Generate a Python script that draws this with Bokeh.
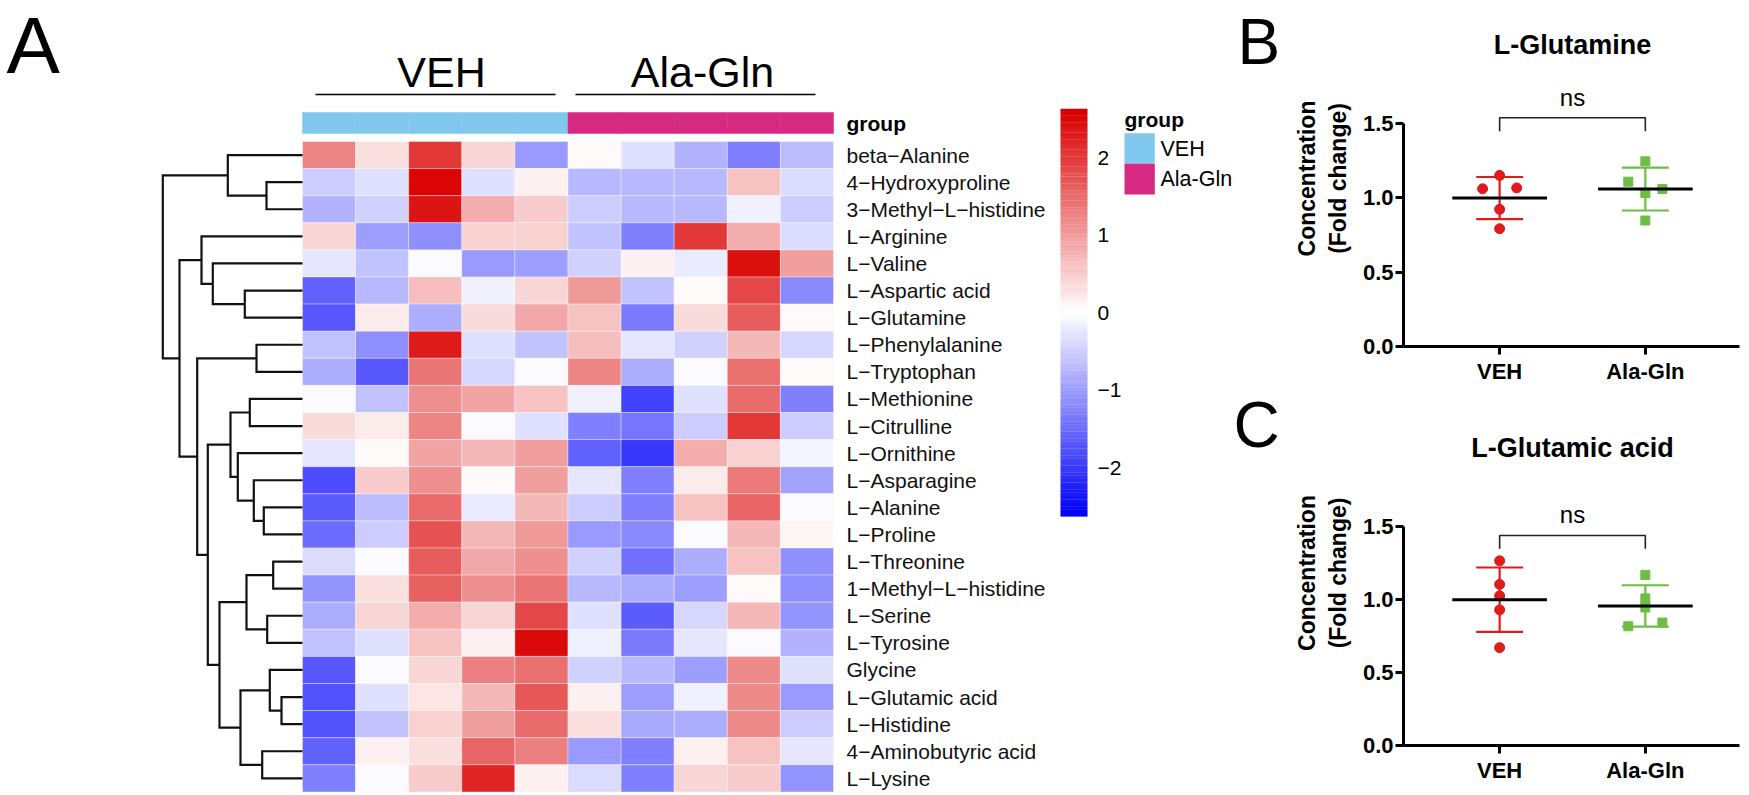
import numpy as np
from bokeh.plotting import figure
from bokeh.models import Range1d, ColumnDataSource, LinearColorMapper, FixedTicker, NumeralTickFormatter
from bokeh.layouts import row, column
from bokeh.embed import file_html
from bokeh.resources import INLINE
from bokeh.core.properties import value

FONT = "Liberation Sans"
MINUS = "\u2212"

# ---------------- data ----------------
metabolites = ["beta-Alanine", "4-Hydroxyproline", "3-Methyl-L-histidine", "L-Arginine", "L-Valine",
               "L-Aspartic acid", "L-Glutamine", "L-Phenylalanine", "L-Tryptophan", "L-Methionine",
               "L-Citrulline", "L-Ornithine", "L-Asparagine", "L-Alanine", "L-Proline", "L-Threonine",
               "1-Methyl-L-histidine", "L-Serine", "L-Tyrosine", "Glycine", "L-Glutamic acid",
               "L-Histidine", "4-Aminobutyric acid", "L-Lysine"]
sample_groups = ["VEH"] * 5 + ["Ala-Gln"] * 5
group_names = ["VEH", "Ala-Gln"]
group_colors = ["#80C8EE", "#D62A82"]

z_rows = [
    [1.24, 0.30, 2.00, 0.40, -1.02, 0.05, -0.30, -0.80, -1.27, -0.65],
    [-0.50, -0.30, 2.55, -0.30, 0.15, -0.71, -0.71, -0.71, 0.60, -0.35],
    [-0.76, -0.48, 2.40, 0.82, 0.50, -0.50, -0.71, -0.71, -0.15, -0.50],
    [0.40, -0.97, -1.14, 0.48, 0.44, -0.61, -1.27, 2.00, 0.85, -0.35],
    [-0.28, -0.61, -0.07, -1.02, -0.97, -0.48, 0.15, -0.20, 2.45, 1.00],
    [-1.58, -0.71, 0.66, -0.15, 0.40, 1.02, -0.61, 0.05, 1.84, -1.17],
    [-1.73, 0.20, -0.82, 0.34, 0.89, 0.61, -1.33, 0.34, 1.63, 0.05],
    [-0.61, -1.14, 2.31, -0.30, -0.61, 0.66, -0.28, -0.48, 0.71, -0.40],
    [-0.82, -1.73, 1.38, -0.41, -0.07, 1.24, -0.82, -0.07, 1.43, 0.05],
    [-0.07, -0.61, 1.12, 0.92, 0.61, -0.17, -1.89, -0.30, 1.48, -1.27],
    [0.38, 0.20, 1.24, -0.07, -0.30, -1.27, -1.38, -0.50, 1.99, -0.50],
    [-0.28, 0.05, 0.92, 0.71, 0.97, -1.58, -1.99, 0.85, 0.46, -0.10],
    [-1.80, 0.51, 1.12, 0.05, 0.97, -0.28, -1.27, 0.23, 1.33, -0.92],
    [-1.63, -0.66, 1.48, -0.20, 0.74, -0.50, -1.27, 0.61, 1.53, -0.03],
    [-1.48, -0.50, 1.78, 0.71, 1.02, -1.02, -1.17, -0.07, 0.74, 0.10],
    [-0.38, -0.07, 1.63, 0.89, 1.12, -0.48, -1.43, -0.82, 0.61, -1.12],
    [-1.07, 0.30, 1.58, 1.12, 1.38, -0.71, -0.82, -0.97, 0.07, -1.12],
    [-0.82, 0.41, 0.82, 0.41, 1.87, -0.30, -1.63, -0.41, 0.71, -1.07],
    [-0.61, -0.30, 0.61, 0.17, 2.50, -0.15, -1.33, -0.28, -0.07, -0.76],
    [-1.68, -0.07, 0.41, 1.27, 1.43, -0.46, -0.71, -0.97, 1.17, -0.30],
    [-1.78, -0.30, 0.25, 0.71, 1.68, 0.17, -0.97, -0.17, 1.17, -1.02],
    [-1.78, -0.61, 0.48, 0.97, 1.48, 0.30, -0.87, -0.82, 1.17, -0.50],
    [-1.58, 0.17, 0.30, 1.53, 1.27, -1.02, -1.27, 0.17, 0.61, -0.28],
    [-1.27, -0.07, 0.51, 2.20, 0.17, -0.38, -1.27, 0.41, 0.51, -1.07],
]

# row dendrogram: (child_a, child_b, height); leaves 0..23, new nodes numbered from 24
row_linkage = [
    (1, 2, 3.6), (0, 24, 7.47), (5, 6, 5.77), (4, 26, 8.97), (3, 27, 10.1),
    (7, 8, 4.6), (9, 10, 5.27), (13, 14, 3.87), (12, 31, 4.87), (11, 32, 6.47),
    (30, 33, 7.2), (15, 16, 2.93), (17, 18, 3.53), (35, 36, 5.6), (20, 21, 2.1),
    (19, 38, 3.27), (22, 23, 4.03), (39, 40, 6.2), (37, 41, 8.3), (34, 42, 9.47),
    (29, 43, 10.53), (28, 44, 12.3), (25, 45, 13.97),
]

colorbar_ticks = [-2, -1, 0, 1, 2]
z_limit = 2.61

# panel B / C  (fold change)
gln_veh = [1.149, 1.059, 1.065, 0.921, 0.791]
gln_ala = [1.244, 1.107, 1.031, 1.058, 0.846]
glu_veh = [1.262, 1.101, 1.023, 0.927, 0.669]
glu_ala = [1.166, 1.005, 0.943, 0.815, 0.840]
gln_veh_jit = [0, -0.117, 0.117, 0, 0]
gln_ala_jit = [0, -0.117, 0, 0.117, 0]
glu_veh_jit = [0, 0, 0, 0, 0]
glu_ala_jit = [0, 0, 0, -0.117, 0.117]
y_ticks = [0, 0.5, 1.0, 1.5]

# ---------------- heatmap panel ----------------
TOTAL_W, TOTAL_H = 1749, 795
WL = 1290
X0, CW, Y0, RH = 302.0, 53.1, 141.0, 27.1
def dx(xr):
    return (xr - X0) / CW
def dy(yr):
    return (yr - Y0) / RH

pA = figure(width=WL, height=TOTAL_H, x_range=Range1d(dx(0), dx(WL)), y_range=Range1d(dy(TOTAL_H), dy(0)),
            x_axis_type=None, y_axis_type=None, output_backend="svg", toolbar_location=None,
            min_border=0)
pA.outline_line_color = None
pA.grid.visible = False

def hexc(c):
    return "#%02X%02X%02X" % tuple(int(round(v)) for v in c)
blue, white, red = (0, 0, 252), (255, 255, 255), (218, 0, 0)
palette = []
N = 101
for k in range(N):
    t = k / (N - 1) * 2 - 1
    if t < 0:
        c = [white[i] + (blue[i] - white[i]) * (-t) for i in range(3)]
    else:
        c = [white[i] + (red[i] - white[i]) * t for i in range(3)]
    palette.append(hexc(c))
mapper = LinearColorMapper(palette=palette, low=-z_limit, high=z_limit)

nr, nc = len(metabolites), len(sample_groups)
cx, cy, cv = [], [], []
for i in range(nr):
    for j in range(nc):
        cx.append(j + 0.5); cy.append(i + 0.5); cv.append(z_rows[i][j])
pA.rect(x="x", y="y", width=1, height=1, source=ColumnDataSource(dict(x=cx, y=cy, v=cv)),
        fill_color={"field": "v", "transform": mapper}, line_color="white", line_alpha=0.35, line_width=1)

# annotation bar
bar_top, bar_bot = 112, 133
gcol = [group_colors[group_names.index(g)] for g in sample_groups]
pA.rect(x=[j + 0.5 for j in range(nc)], y=[dy((bar_top + bar_bot) / 2)] * nc, width=1.0,
        height=(bar_bot - bar_top) / RH, fill_color=gcol, line_color=gcol, line_width=0.5)
pA.text(x=[dx(846)], y=[dy((bar_top + bar_bot) / 2)], text=["group"],
        text_font=value(FONT), text_font_size="21px", text_font_style="bold", text_baseline="middle")

# row labels
pA.text(x=[dx(846)] * nr, y=[i + 0.5 for i in range(nr)],
        text=[m.replace("-", MINUS) for m in metabolites], text_font=value(FONT),
        text_font_size="21px", text_baseline="middle", text_color="#111111")

# top group labels and brackets
bracket_px = [(315, 555), (575, 815)]
label_cx = [441, 702]
for gi, g in enumerate(group_names):
    pA.line(x=[dx(bracket_px[gi][0]), dx(bracket_px[gi][1])], y=[dy(94), dy(94)], line_color="black", line_width=1.6)
    pA.text(x=[dx(label_cx[gi])], y=[dy(71)], text=[g], text_font=value(FONT), text_font_size="43px",
            text_align="center", text_baseline="middle")

# dendrogram
DEND_SPAN = (X0 - 162.3) / CW
hmax = max(h for _, _, h in row_linkage)
def hx(h):
    return -h / hmax * DEND_SPAN
node_y = {i: i + 0.5 for i in range(nr)}
node_h = {i: 0.0 for i in range(nr)}
dxs, dys = [], []
for k, (a, b, h) in enumerate(row_linkage):
    nid = nr + k
    ya, yb = node_y[a], node_y[b]
    dxs.append([hx(node_h[a]), hx(h), hx(h), hx(node_h[b])])
    dys.append([ya, ya, yb, yb])
    node_y[nid] = (ya + yb) / 2
    node_h[nid] = h
pA.multi_line(xs=dxs, ys=dys, line_color="#111111", line_width=2.2, line_join="miter")

# colour bar
cb_x0, cb_x1, cb_top, cb_bot = 1060, 1087, 110, 514.3
vals = np.linspace(-z_limit, z_limit, 120)
step = (cb_bot - cb_top) / len(vals)
def cb_y(v):
    return dy(cb_top + (z_limit - v) / (2 * z_limit) * (cb_bot - cb_top))
cb_src = ColumnDataSource(dict(y=[cb_y(v) for v in vals], v=list(vals)))
pA.rect(x=(dx(cb_x0) + dx(cb_x1)) / 2, y="y", width=dx(cb_x1) - dx(cb_x0),
        height=step / RH * 1.08, fill_color={"field": "v", "transform": mapper}, line_color=None,
        source=cb_src)
pA.text(x=[dx(1097)] * len(colorbar_ticks), y=[cb_y(v) for v in colorbar_ticks],
        text=[str(v).replace("-", MINUS) for v in colorbar_ticks], text_font=value(FONT),
        text_font_size="21px", text_baseline="middle")

# group legend
lg_x0, lg_x1 = 1124, 1154.3
pA.text(x=[dx(lg_x0)], y=[dy(119)], text=["group"], text_font=value(FONT), text_font_size="21px",
        text_font_style="bold", text_baseline="middle")
sw_top, sw_h = 132.7, 30.6
for gi, g in enumerate(group_names):
    t = sw_top + gi * sw_h
    pA.rect(x=[(dx(lg_x0) + dx(lg_x1)) / 2], y=[dy(t + sw_h / 2)], width=dx(lg_x1) - dx(lg_x0),
            height=sw_h / RH, fill_color=group_colors[gi], line_color=None)
    pA.text(x=[dx(1160)], y=[dy(t + sw_h / 2)], text=[g], text_font=value(FONT),
            text_font_size="21.5px", text_baseline="middle")

# panel letters
pA.text(x=[dx(6), dx(1237), dx(1233)], y=[dy(45), dy(41.5), dy(424.5)], text=["A", "B", "C"],
        text_font=value(FONT), text_font_size=["80px", "64px", "64px"], text_baseline="middle")

# ---------------- dot plots ----------------
RED, GREEN = "#E01B1B", "#6DBE45"
WR = TOTAL_W - WL

def panel(title, veh, ala, vjit, ajit, H, fig_top, frame_top, frame_bot, unit_px,
          title_y, ns_y, br_y, br_bot):
    cat_px, cat0 = 147.0, 1497.0
    def xv(xr):
        return 1 + (xr - cat0) / cat_px
    def yv(yr):
        return (frame_bot - yr) / unit_px
    p = figure(width=WR, height=H, x_range=Range1d(xv(1400), xv(1739)), y_range=Range1d(0, yv(frame_top)),
               output_backend="svg", toolbar_location=None,
               min_border_left=1400 - WL, min_border_right=TOTAL_W - 1739,
               min_border_top=int(round(frame_top - fig_top)),
               min_border_bottom=int(round(fig_top + H - frame_bot)))
    p.outline_line_color = None
    p.grid.visible = False
    ya = p.yaxis[0]
    ya.ticker = FixedTicker(ticks=y_ticks)
    ya.formatter = NumeralTickFormatter(format="0.0")
    ya.bounds = (0, 1.5)
    xa = p.xaxis[0]
    xa.ticker = FixedTicker(ticks=[1, 2])
    xa.major_label_overrides = {1: group_names[0], 2: group_names[1]}
    for ax in (xa, ya):
        ax.axis_line_width = 3
        ax.axis_line_color = "black"
        ax.major_tick_line_color = "black"
        ax.major_tick_line_width = 3
        ax.major_tick_in = 0
        ax.major_tick_out = 8
        ax.minor_tick_line_color = None
        ax.major_label_text_font = FONT
        ax.major_label_text_font_size = "22px"
        ax.major_label_text_font_style = "bold"
        ax.major_label_text_color = "black"
    ya.major_label_standoff = 2
    xa.major_label_standoff = 4
    ya.axis_label = "Concentration\n(Fold change)"
    ya.axis_label_text_font = FONT
    ya.axis_label_text_font_size = "23px"
    ya.axis_label_text_font_style = "bold"
    ya.axis_label_text_color = "black"
    ya.axis_label_standoff = 9

    for k, (vals, jit, col, mk, sz) in enumerate([(veh, vjit, RED, "circle", 10), (ala, ajit, GREEN, "square", 9)]):
        xc = k + 1
        m = float(np.mean(vals)); sd = float(np.std(vals, ddof=1))
        p.segment(x0=[xc, xc - 0.161, xc - 0.161], y0=[m - sd, m + sd, m - sd],
                  x1=[xc, xc + 0.161, xc + 0.161], y1=[m + sd, m + sd, m - sd], line_color=col, line_width=2.2)
        p.scatter(x=[xc + j for j in jit], y=vals, marker=mk, size=sz, fill_color=col, line_color=col)
        p.segment(x0=[xc - 0.325], y0=[m], x1=[xc + 0.325], y1=[m], line_color="black", line_width=3)

    p.line(x=[1, 1, 2, 2], y=[yv(br_bot), yv(br_y), yv(br_y), yv(br_bot)], line_color="#222222", line_width=1.6)
    p.text(x=[1.5], y=[yv(ns_y)], text=["ns"], text_font=value(FONT), text_font_size="24px",
           text_align="center", text_baseline="middle")
    p.text(x=[1.5], y=[yv(title_y)], text=[title], text_font=value(FONT), text_font_size="27px",
           text_font_style="bold", text_align="center", text_baseline="middle")
    return p

HB = 390
pB = panel("L-Glutamine", gln_veh, gln_ala, gln_veh_jit, gln_ala_jit, HB, 0, 10, 346, 148.9,
           44, 96.7, 117.3, 130.7)
pC = panel("L-Glutamic acid", glu_veh, glu_ala, glu_veh_jit, glu_ala_jit, TOTAL_H - HB, HB, 400, 745, 146.3,
           447, 514.3, 535, 548.3)

layout = row(pA, column(pB, pC))
open("out.html", "w").write(file_html(layout, INLINE))
